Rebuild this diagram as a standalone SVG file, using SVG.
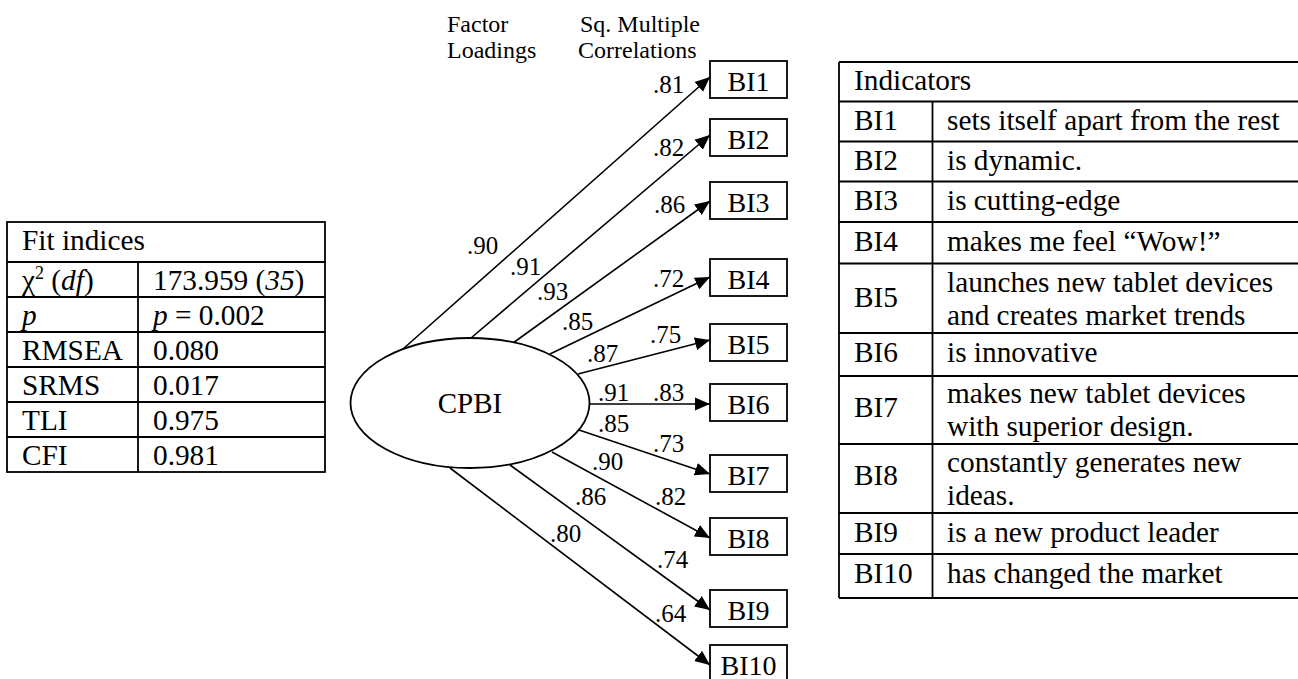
<svg xmlns="http://www.w3.org/2000/svg" width="1298" height="679" viewBox="0 0 1298 679">
  <style>
    text { font-family: "Liberation Serif", "Times New Roman", serif; fill: #000; }
    .hdr { font-size: 24px; }
    .lbl { font-size: 25px; }
    .box { fill: #fff; stroke: #000; stroke-width: 1.8; }
    .boxtxt { font-size: 28px; text-anchor: middle; }
    .ell { fill: #fff; stroke: #000; stroke-width: 1.8; }
    .edge { fill: none; stroke: #000; stroke-width: 1.6; marker-end: url(#arrow); }
    .grid { stroke: #000; stroke-width: 1.8; fill: none; }
    .cell { font-size: 29.3px; }
    .it { font-style: italic; }
  </style>
  <defs>
    <marker id="arrow" markerUnits="userSpaceOnUse" markerWidth="16" markerHeight="14" refX="15" refY="7" orient="auto">
      <path d="M0,0.5 L15,7 L0,13.5 z" fill="#000"/>
    </marker>
  </defs>

  <!-- column headings -->
  <g id="headings">
    <text class="hdr" x="447" y="32">Factor</text>
    <text class="hdr" x="447" y="58">Loadings</text>
    <text class="hdr" x="580" y="32">Sq. Multiple</text>
    <text class="hdr" x="578" y="58">Correlations</text>
  </g>

  <!-- paths from the latent factor to its indicators -->
  <g id="connectors">
    <line class="edge" x1="403" y1="349" x2="710" y2="77"/>
    <line class="edge" x1="471" y1="338" x2="710" y2="135"/>
    <line class="edge" x1="513" y1="343" x2="710" y2="201"/>
    <line class="edge" x1="550" y1="354" x2="710" y2="277"/>
    <line class="edge" x1="578" y1="374" x2="710" y2="340"/>
    <line class="edge" x1="589" y1="404" x2="710" y2="404"/>
    <line class="edge" x1="579" y1="430" x2="710" y2="474"/>
    <line class="edge" x1="552" y1="452" x2="710" y2="538"/>
    <line class="edge" x1="510" y1="465" x2="710" y2="610"/>
    <line class="edge" x1="450" y1="468" x2="710" y2="665"/>

    <!-- factor loadings -->
    <text class="lbl" x="467" y="254">.90</text>
    <text class="lbl" x="510" y="275">.91</text>
    <text class="lbl" x="537" y="300">.93</text>
    <text class="lbl" x="562" y="330">.85</text>
    <text class="lbl" x="587" y="362">.87</text>
    <text class="lbl" x="598" y="401">.91</text>
    <text class="lbl" x="598" y="432">.85</text>
    <text class="lbl" x="592" y="470">.90</text>
    <text class="lbl" x="575" y="505">.86</text>
    <text class="lbl" x="550" y="542">.80</text>

    <!-- squared multiple correlations -->
    <text class="lbl" x="653" y="93">.81</text>
    <text class="lbl" x="653" y="156">.82</text>
    <text class="lbl" x="654" y="213">.86</text>
    <text class="lbl" x="653" y="287">.72</text>
    <text class="lbl" x="650" y="343">.75</text>
    <text class="lbl" x="653" y="401">.83</text>
    <text class="lbl" x="653" y="452">.73</text>
    <text class="lbl" x="655" y="505">.82</text>
    <text class="lbl" x="657" y="568">.74</text>
    <text class="lbl" x="655" y="622">.64</text>
  </g>

  <!-- latent factor -->
  <g id="node-CPBI">
    <ellipse class="ell" cx="470" cy="403" rx="119.5" ry="65"/>
    <text x="470" y="413" font-size="29" text-anchor="middle">CPBI</text>
  </g>

  <!-- indicator boxes -->
  <g id="node-BI1"><rect class="box" x="710" y="61" width="77" height="37"/><text class="boxtxt" x="748.5" y="91">BI1</text></g>
  <g id="node-BI2"><rect class="box" x="710" y="119" width="77" height="37"/><text class="boxtxt" x="748.5" y="149">BI2</text></g>
  <g id="node-BI3"><rect class="box" x="710" y="182" width="77" height="37"/><text class="boxtxt" x="748.5" y="212">BI3</text></g>
  <g id="node-BI4"><rect class="box" x="710" y="259" width="77" height="37"/><text class="boxtxt" x="748.5" y="289">BI4</text></g>
  <g id="node-BI5"><rect class="box" x="710" y="324" width="77" height="37"/><text class="boxtxt" x="748.5" y="354">BI5</text></g>
  <g id="node-BI6"><rect class="box" x="710" y="384" width="77" height="37"/><text class="boxtxt" x="748.5" y="414">BI6</text></g>
  <g id="node-BI7"><rect class="box" x="710" y="455" width="77" height="37"/><text class="boxtxt" x="748.5" y="485">BI7</text></g>
  <g id="node-BI8"><rect class="box" x="710" y="518" width="77" height="37"/><text class="boxtxt" x="748.5" y="548">BI8</text></g>
  <g id="node-BI9"><rect class="box" x="710" y="590" width="77" height="37"/><text class="boxtxt" x="748.5" y="620">BI9</text></g>
  <g id="node-BI10"><rect class="box" x="710" y="645" width="77" height="37"/><text class="boxtxt" x="748.5" y="675">BI10</text></g>

  <!-- fit indices table -->
  <g id="fit-indices">
    <rect class="grid" x="7" y="222" width="318" height="250"/>
    <line class="grid" x1="7" y1="262" x2="325" y2="262"/>
    <line class="grid" x1="7" y1="297" x2="325" y2="297"/>
    <line class="grid" x1="7" y1="332" x2="325" y2="332"/>
    <line class="grid" x1="7" y1="367" x2="325" y2="367"/>
    <line class="grid" x1="7" y1="402" x2="325" y2="402"/>
    <line class="grid" x1="7" y1="437" x2="325" y2="437"/>
    <line class="grid" x1="138" y1="262" x2="138" y2="472"/>
    <text class="cell" x="22" y="250">Fit indices</text>
    <text class="cell" x="22" y="290">χ<tspan font-size="18" dy="-11">2</tspan><tspan dy="11"> (</tspan><tspan class="it">df</tspan>)</text>
    <text class="cell" x="153" y="290">173.959 (<tspan class="it">35</tspan>)</text>
    <text class="cell it" x="22" y="325">p</text>
    <text class="cell" x="153" y="325"><tspan class="it">p</tspan> = 0.002</text>
    <text class="cell" x="22" y="360">RMSEA</text>
    <text class="cell" x="153" y="360">0.080</text>
    <text class="cell" x="22" y="395">SRMS</text>
    <text class="cell" x="153" y="395">0.017</text>
    <text class="cell" x="22" y="430">TLI</text>
    <text class="cell" x="153" y="430">0.975</text>
    <text class="cell" x="22" y="465">CFI</text>
    <text class="cell" x="153" y="465">0.981</text>
  </g>

  <!-- indicator wording table -->
  <g id="indicators">
    <line class="grid" x1="839" y1="62" x2="1299" y2="62"/>
    <line class="grid" x1="839" y1="62" x2="839" y2="598"/>
    <line class="grid" x1="932.5" y1="101.5" x2="932.5" y2="598"/>
    <line class="grid" x1="839" y1="101.5" x2="1299" y2="101.5"/>
    <line class="grid" x1="839" y1="141.5" x2="1299" y2="141.5"/>
    <line class="grid" x1="839" y1="181.5" x2="1299" y2="181.5"/>
    <line class="grid" x1="839" y1="222" x2="1299" y2="222"/>
    <line class="grid" x1="839" y1="263.5" x2="1299" y2="263.5"/>
    <line class="grid" x1="839" y1="333" x2="1299" y2="333"/>
    <line class="grid" x1="839" y1="376" x2="1299" y2="376"/>
    <line class="grid" x1="839" y1="444" x2="1299" y2="444"/>
    <line class="grid" x1="839" y1="513" x2="1299" y2="513"/>
    <line class="grid" x1="839" y1="554" x2="1299" y2="554"/>
    <line class="grid" x1="839" y1="598" x2="1299" y2="598"/>

    <text class="cell" x="854" y="90">Indicators</text>
    <text class="cell" x="854" y="130">BI1</text>
    <text class="cell" x="947" y="130">sets itself apart from the rest</text>
    <text class="cell" x="854" y="170">BI2</text>
    <text class="cell" x="947" y="170">is dynamic.</text>
    <text class="cell" x="854" y="210">BI3</text>
    <text class="cell" x="947" y="210">is cutting-edge</text>
    <text class="cell" x="854" y="251">BI4</text>
    <text class="cell" x="947" y="251">makes me feel “Wow!”</text>
    <text class="cell" x="854" y="307">BI5</text>
    <text class="cell" x="947" y="292">launches new tablet devices</text>
    <text class="cell" x="947" y="325">and creates market trends</text>
    <text class="cell" x="854" y="362">BI6</text>
    <text class="cell" x="947" y="362">is innovative</text>
    <text class="cell" x="854" y="417">BI7</text>
    <text class="cell" x="947" y="403">makes new tablet devices</text>
    <text class="cell" x="947" y="436">with superior design.</text>
    <text class="cell" x="854" y="485">BI8</text>
    <text class="cell" x="947" y="472">constantly generates new</text>
    <text class="cell" x="947" y="505">ideas.</text>
    <text class="cell" x="854" y="542">BI9</text>
    <text class="cell" x="947" y="542">is a new product leader</text>
    <text class="cell" x="854" y="583">BI10</text>
    <text class="cell" x="947" y="583">has changed the market</text>
  </g>
</svg>
